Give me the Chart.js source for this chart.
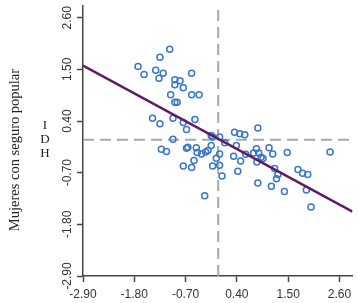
<!DOCTYPE html>
<html lang="es">
<head>
<meta charset="utf-8">
<title>IDH - Mujeres con seguro popular</title>
<script src="https://cdn.jsdelivr.net/npm/chart.js@4.4.1/dist/chart.umd.min.js"></script>
<style>
    html, body { margin: 0; padding: 0; background: #fff; }
    canvas { display: block; }
</style>
</head>
<body>
<canvas id="scatterChart" width="358" height="303"></canvas>
<script>
// Datos (valores estandarizados)
const idhX = [
    -1.04, -1.25, -1.72, -1.59, -1.34, -1.18, -1.27, -0.57, -0.93, -0.82,
    -0.93, -0.75, -1.02, -0.57, -0.41, -0.93, -0.88, -1.41, -1.25, -0.97,
    -0.75, -0.50, -0.68, -0.97, -1.22, -1.11, -0.65, -0.68, -0.47, -0.45,
    -0.36, -0.27, -0.22, -0.15, -0.12, -0.52, -0.75, -0.57, -0.12, -0.04,
    -0.29, 0.35, 0.46, 0.57, 0.85, 0.03, 0.14, -0.15, 0.39, 0.03,
    0.33, 0.48, 0.59, 0.82, 0.87, 0.76, 0.92, 0.96, 1.09, 1.17,
    1.48, 0.83, 0.08, 0.42, 1.21, 1.28, 1.25, 0.85, 1.14, 1.42,
    1.71, 1.81, 1.92, 1.89, 1.99, 2.40, 0.03
];
const seguroY = [
    1.93, 1.76, 1.56, 1.39, 1.48, 1.42, 1.31, 1.42, 1.28, 1.26,
    1.17, 1.11, 0.96, 0.96, 0.96, 0.80, 0.80, 0.46, 0.34, 0.46,
    0.37, 0.43, 0.22, 0.01, -0.20, -0.25, -0.16, -0.18, -0.17, -0.27,
    -0.30, -0.26, -0.23, 0.09, 0.06, -0.44, -0.56, -0.59, -0.56, -0.39,
    -1.19, 0.16, 0.13, 0.11, 0.25, 0.06, -0.06, -0.12, -0.12, -0.30,
    -0.35, -0.45, -0.31, -0.19, -0.28, -0.28, -0.37, -0.40, -0.17, -0.30,
    -0.27, -0.47, -0.77, -0.67, -0.61, -0.74, -0.83, -0.92, -0.99, -1.10,
    -0.63, -0.71, -0.74, -1.07, -1.43, -0.26, -0.54
];

// Recta de regresión (extremos)
const fitX = [-2.9, 2.88];
const fitY = [1.58, -1.53];

// Ejes
const tickValues = [-2.9, -1.8, -0.7, 0.4, 1.5, 2.6];
const axisMin = -2.9;
const axisMaxX = 2.88;
const axisMaxY = 2.86;
const yTitle = 'Mujeres con seguro popular';
const sideLabel = ['I', 'D', 'H'];

const toPoints = (xs, ys) => xs.map((x, i) => ({ x: x, y: ys[i] }));

// Etiquetas del eje vertical
const titlesPlugin = {
    id: 'titles',
    afterDraw(chart) {
        const ctx = chart.ctx;
        ctx.save();
        ctx.fillStyle = '#222';
        ctx.textAlign = 'center';
        ctx.textBaseline = 'middle';
        ctx.font = '14.5px "Liberation Serif", serif';
        ctx.translate(15, 150);
        ctx.rotate(-Math.PI / 2);
        ctx.fillText(yTitle, 0, 0);
        ctx.restore();

        ctx.save();
        ctx.fillStyle = '#222';
        ctx.textAlign = 'center';
        ctx.textBaseline = 'middle';
        ctx.font = '13px "Liberation Serif", serif';
        sideLabel.forEach((ch, i) => {
            ctx.fillText(ch, 45, 126 + i * 14);
        });
        ctx.restore();
    }
};

const axisOptions = (max) => ({
    type: 'linear',
    min: axisMin,
    max: max,
    afterBuildTicks: (scale) => {
        scale.ticks = tickValues.map(v => ({ value: v }));
    },
    grid: {
        drawOnChartArea: false,
        drawTicks: true,
        tickLength: 6,
        tickWidth: 1.5,
        tickColor: '#444'
    },
    border: {
        display: true,
        color: '#444',
        width: 1.5
    },
    ticks: {
        color: '#333',
        font: { family: '"Liberation Sans", Arial, sans-serif', size: 12 },
        callback: (v) => Number(v).toFixed(2)
    }
});

const xAxis = axisOptions(axisMaxX);
xAxis.ticks.padding = 5;
xAxis.ticks.maxRotation = 0;
xAxis.ticks.minRotation = 0;
xAxis.afterFit = (scale) => { scale.height = 27; };

const yAxis = axisOptions(axisMaxY);
yAxis.ticks.minRotation = 90;
yAxis.ticks.maxRotation = 90;
yAxis.ticks.crossAlign = 'center';
yAxis.ticks.padding = -4;
yAxis.afterFit = (scale) => { scale.width = 83; };

const ctx = document.getElementById('scatterChart').getContext('2d');
new Chart(ctx, {
    type: 'scatter',
    data: {
        datasets: [
            {
                label: 'Regresión',
                type: 'line',
                data: toPoints(fitX, fitY),
                borderColor: '#5e1a66',
                borderWidth: 2.5,
                pointRadius: 0,
                fill: false,
                order: 0
            },
            {
                label: 'Estados',
                data: toPoints(idhX, seguroY),
                pointRadius: 3,
                pointBorderWidth: 1.5,
                borderColor: '#3a78c4',
                backgroundColor: 'rgba(255,255,255,0)',
                order: 1
            },
            {
                label: 'Media X',
                type: 'line',
                data: [{ x: 0, y: axisMin }, { x: 0, y: axisMaxY }],
                borderColor: '#a8a8a8',
                borderWidth: 2,
                borderDash: [11, 6],
                pointRadius: 0,
                order: 2
            },
            {
                label: 'Media Y',
                type: 'line',
                data: [{ x: axisMin, y: 0 }, { x: axisMaxX, y: 0 }],
                borderColor: '#a8a8a8',
                borderWidth: 2,
                borderDash: [11, 6],
                pointRadius: 0,
                order: 2
            }
        ]
    },
    options: {
        responsive: false,
        animation: false,
        layout: { padding: { left: 0, right: 5, top: 5, bottom: 0 } },
        plugins: {
            legend: { display: false },
            tooltip: { enabled: false }
        },
        scales: {
            x: xAxis,
            y: yAxis
        }
    },
    plugins: [titlesPlugin]
});
</script>
</body>
</html>
